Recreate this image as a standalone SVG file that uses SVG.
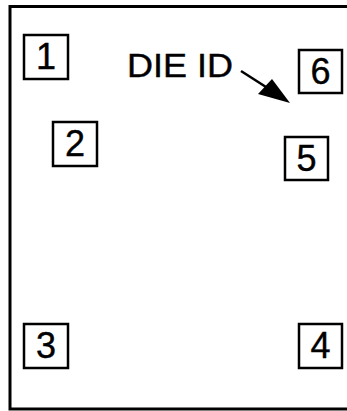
<svg xmlns="http://www.w3.org/2000/svg" width="347" height="411" viewBox="0 0 347 411">
<style>
.box{fill:#fff;stroke:#000;stroke-width:2.5}
.num{font-family:"Liberation Sans",Arial,sans-serif;font-size:36px;text-anchor:middle;fill:#000;stroke:#000;stroke-width:0.4}
.lbl{font-family:"Liberation Sans",Arial,sans-serif;font-size:33px;fill:#000;stroke:#000;stroke-width:0.4}
</style>
<rect width="347" height="411" fill="#fff"/>
<path id="frame" d="M350 6.5 H10 V409 H350" fill="none" stroke="#000" stroke-width="3"/>
<g id="pin1"><rect class="box" x="24" y="35" width="44" height="44"/><text class="num" x="46" y="68.5">1</text></g>
<g id="pin2"><rect class="box" x="53" y="122" width="44" height="44"/><text class="num" x="75" y="155.5">2</text></g>
<g id="pin3"><rect class="box" x="24" y="324" width="44" height="44"/><text class="num" x="46" y="357.5">3</text></g>
<g id="pin4"><rect class="box" x="299" y="324" width="43" height="44"/><text class="num" x="320.5" y="357.5">4</text></g>
<g id="pin5"><rect class="box" x="285" y="137" width="43" height="43"/><text class="num" x="306.5" y="170.5">5</text></g>
<g id="pin6"><rect class="box" x="299" y="50" width="43" height="43"/><text class="num" x="320.5" y="83.5">6</text></g>
<g id="dieid"><text class="lbl" x="127" y="77" textLength="106" lengthAdjust="spacingAndGlyphs">DIE ID</text></g>
<g id="connectors">
<line x1="241" y1="71" x2="266" y2="87" stroke="#000" stroke-width="2.5"/>
<polygon points="290,103 258,94 272,79" fill="#000"/>
</g>
</svg>
